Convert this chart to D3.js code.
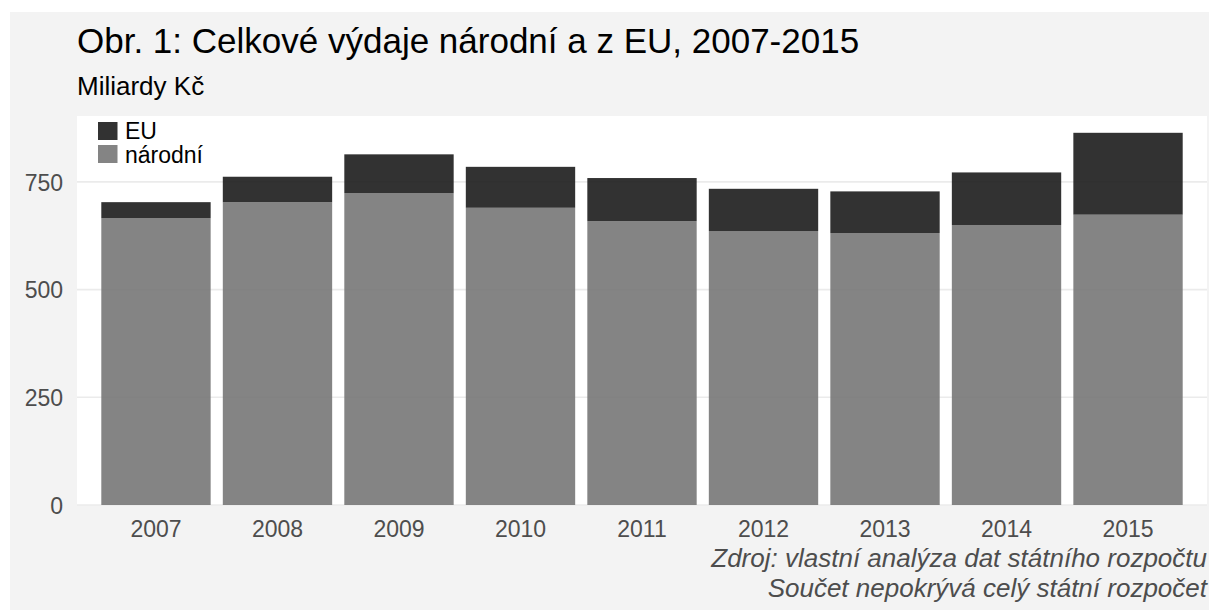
<!DOCTYPE html>
<html>
<head>
<meta charset="utf-8">
<script src="https://cdn.jsdelivr.net/npm/d3@7"></script>
<style>
  html, body { margin: 0; padding: 0; background: #ffffff; }
  svg { display: block; font-family: "Liberation Sans", Arial, sans-serif; }
</style>
</head>
<body>
<svg id="chart" width="1209" height="610"></svg>
<script>
const years = ["2007","2008","2009","2010","2011","2012","2013","2014","2015"];
const narodni = [666, 703, 724, 690, 659, 636, 631, 650, 674];
const eu = [37, 59, 90, 95, 100, 98, 97, 122, 190];
const yTicks = [0, 250, 500, 750];
const seriesNames = ["EU", "národní"];
const seriesColors = ["#1c1c1c", "#777777"];
const yMax = 903;
const titleText = "Obr. 1: Celkové výdaje národní a z EU, 2007-2015";
const subtitleText = "Miliardy Kč";
const captionLines = ["Zdroj: vlastní analýza dat státního rozpočtu", "Součet nepokrývá celý státní rozpočet"];

const svg = d3.select("#chart");
const W = 1209, H = 610;
const panel = {x0: 77, x1: 1207, y0: 116, y1: 505};

svg.append("rect").attr("x", 10).attr("y", 12).attr("width", W - 10).attr("height", H - 12).attr("fill", "#f3f3f3");
svg.append("rect").attr("x", panel.x0).attr("y", panel.y0)
  .attr("width", panel.x1 - panel.x0).attr("height", panel.y1 - panel.y0).attr("fill", "#ffffff");

const x = d3.scaleBand().domain(years).range([panel.x0, panel.x1]).paddingInner(0.1).paddingOuter(0.2);
const y = d3.scaleLinear().domain([0, yMax]).range([panel.y1, panel.y0]);

// gridlines
svg.append("g").selectAll("line").data(yTicks).join("line")
  .attr("x1", panel.x0).attr("x2", panel.x1)
  .attr("y1", d => y(d)).attr("y2", d => y(d))
  .attr("stroke", "#ebebeb").attr("stroke-width", 1.6);

// stacked data
const rows = years.map((yr, i) => ({year: yr, "národní": narodni[i], "EU": eu[i]}));
const stack = d3.stack().keys(["národní", "EU"]);
const stacked = stack(rows);
const color = d3.scaleOrdinal().domain(seriesNames).range(seriesColors);

svg.append("g").selectAll("g").data(stacked).join("g")
  .attr("fill", d => color(d.key))
  .attr("fill-opacity", 0.9)
  .selectAll("rect").data(d => d).join("rect")
  .attr("x", d => x(d.data.year))
  .attr("width", x.bandwidth())
  .attr("y", d => y(d[1]))
  .attr("height", d => y(d[0]) - y(d[1]));

// y axis labels
const yAxis = d3.axisLeft(y).tickValues(yTicks).tickSize(0).tickPadding(0);
const gy = svg.append("g").attr("transform", `translate(63,0)`).call(yAxis);
gy.select(".domain").remove();
gy.selectAll("text").attr("fill", "#4d4d4d").attr("font-size", 23).attr("font-family", "Liberation Sans, Arial, sans-serif").attr("dy", "0.36em").attr("x", 0);

// x axis labels
const xAxis = d3.axisBottom(x).tickSize(0).tickPadding(0);
const gx = svg.append("g").attr("transform", `translate(0,${panel.y1})`).call(xAxis);
gx.select(".domain").remove();
gx.selectAll("text").attr("fill", "#4d4d4d").attr("font-size", 23).attr("font-family", "Liberation Sans, Arial, sans-serif").attr("dy", null).attr("y", 32);

// title & subtitle
svg.append("text").attr("x", 77).attr("y", 53).attr("font-size", 35).attr("fill", "#000").text(titleText);
svg.append("text").attr("x", 77).attr("y", 95).attr("font-size", 26).attr("fill", "#000").text(subtitleText);

// legend
const lg = svg.append("g");
seriesNames.forEach((s, i) => {
  lg.append("rect").attr("x", 98).attr("y", 122 + i * 23).attr("width", 19.5).attr("height", 18)
    .attr("fill", color(s)).attr("fill-opacity", 0.9);
  lg.append("text").attr("x", 125).attr("y", 138.5 + i * 24.3).attr("font-size", 23).attr("fill", "#000").text(s);
});

// caption
svg.append("g").selectAll("text").data(captionLines).join("text")
  .attr("x", 1207).attr("y", (d, i) => 567 + i * 29.5)
  .attr("text-anchor", "end").attr("font-style", "italic").attr("font-size", 26).attr("fill", "#4d4d4d")
  .text(d => d);
</script>
</body>
</html>
